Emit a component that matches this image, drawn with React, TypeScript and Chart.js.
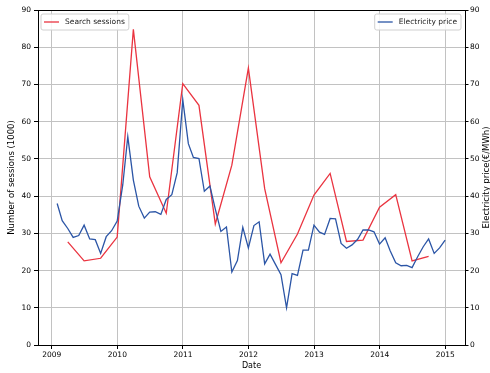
import React, { useEffect, useRef } from 'react';
import { Chart, registerables } from 'chart.js';

Chart.register(...registerables);

// Quarterly search sessions (thousands), dated at quarter end
const sessionDates = [
  '2009-03-31', '2009-06-30', '2009-09-30', '2009-12-31',
  '2010-03-31', '2010-06-30', '2010-09-30', '2010-12-31',
  '2011-03-31', '2011-06-30', '2011-09-30', '2011-12-31',
  '2012-03-31', '2012-06-30', '2012-09-30', '2012-12-31',
  '2013-03-31', '2013-06-30', '2013-09-30', '2013-12-31',
  '2014-03-31', '2014-06-30', '2014-09-30',
];
const sessionValues = [
  27.7, 22.6, 23.3, 29.0,
  84.8, 45.2, 35.4, 70.2,
  64.4, 32.5, 48.3, 74.4,
  42.0, 22.1, 29.8, 40.3,
  46.1, 27.8, 28.2, 37.0,
  40.4, 22.6, 23.8,
];

// Monthly electricity price (€/MWh), dated at month end
const priceMonths = [
  '2009-01', '2009-02', '2009-03', '2009-04', '2009-05', '2009-06', '2009-07', '2009-08', '2009-09', '2009-10', '2009-11', '2009-12',
  '2010-01', '2010-02', '2010-03', '2010-04', '2010-05', '2010-06', '2010-07', '2010-08', '2010-09', '2010-10', '2010-11', '2010-12',
  '2011-01', '2011-02', '2011-03', '2011-04', '2011-05', '2011-06', '2011-07', '2011-08', '2011-09', '2011-10', '2011-11', '2011-12',
  '2012-01', '2012-02', '2012-03', '2012-04', '2012-05', '2012-06', '2012-07', '2012-08', '2012-09', '2012-10', '2012-11', '2012-12',
  '2013-01', '2013-02', '2013-03', '2013-04', '2013-05', '2013-06', '2013-07', '2013-08', '2013-09', '2013-10', '2013-11', '2013-12',
  '2014-01', '2014-02', '2014-03', '2014-04', '2014-05', '2014-06', '2014-07', '2014-08', '2014-09', '2014-10', '2014-11', '2014-12',
];
const priceValues = [
  38.0, 33.4, 31.3, 28.9, 29.4, 32.2, 28.5, 28.3, 24.6, 29.1, 30.7, 33.3,
  43.0, 56.0, 44.3, 37.3, 34.1, 35.7, 35.8, 35.1, 39.1, 40.4, 46.3, 65.9,
  54.1, 50.4, 50.1, 41.3, 42.7, 36.5, 30.5, 31.7, 19.6, 22.7, 31.6, 26.1,
  32.1, 33.1, 21.8, 24.4, 21.6, 18.9, 10.0, 19.2, 18.7, 25.5, 25.5, 32.2,
  30.3, 29.7, 34.0, 33.9, 27.3, 26.0, 26.9, 28.4, 30.9, 30.9, 30.4, 27.1,
  28.8, 25.3, 22.1, 21.3, 21.4, 20.8, 23.7, 26.4, 28.5, 24.6, 26.1, 28.2,
];

const yearTicks = [2009, 2010, 2011, 2012, 2013, 2014, 2015];
const valueTicks = [0, 10, 20, 30, 40, 50, 60, 70, 80, 90];

const SESSION_COLOR = '#ea3440';
const PRICE_COLOR = '#2b55a6';
const FONT = '"DejaVu Sans", sans-serif';
const TICK_SIZE = 7.5;
const TITLE_SIZE = 8.5;
const DATE_SIZE = 8;

// Convert a calendar date into a fractional year for the linear x axis
function fractionalYear(y: number, m: number, d: number): number {
  const start = Date.UTC(y, 0, 1);
  const end = Date.UTC(y + 1, 0, 1);
  return y + (Date.UTC(y, m - 1, d) - start) / (end - start);
}

function fromIsoDate(s: string): number {
  const [y, m, d] = s.split('-').map(Number);
  return fractionalYear(y, m, d);
}

function fromMonthEnd(s: string): number {
  const [y, m] = s.split('-').map(Number);
  const lastDay = new Date(Date.UTC(y, m, 0)).getUTCDate();
  return fractionalYear(y, m, lastDay);
}

function drawLegendBox(
  ctx: CanvasRenderingContext2D,
  x: number,
  y: number,
  label: string,
  color: string,
  alignRight: boolean
) {
  ctx.save();
  ctx.font = `${TICK_SIZE}px ${FONT}`;
  const textW = ctx.measureText(label).width;
  const pad = 3;
  const handle = 15;
  const gap = 6;
  const w = pad + handle + gap + textW + pad + 1;
  const h = 16;
  const left = alignRight ? x - w : x;
  ctx.beginPath();
  const r = 2;
  ctx.moveTo(left + r, y);
  ctx.lineTo(left + w - r, y);
  ctx.quadraticCurveTo(left + w, y, left + w, y + r);
  ctx.lineTo(left + w, y + h - r);
  ctx.quadraticCurveTo(left + w, y + h, left + w - r, y + h);
  ctx.lineTo(left + r, y + h);
  ctx.quadraticCurveTo(left, y + h, left, y + h - r);
  ctx.lineTo(left, y + r);
  ctx.quadraticCurveTo(left, y, left + r, y);
  ctx.closePath();
  ctx.fillStyle = 'rgba(255,255,255,0.85)';
  ctx.fill();
  ctx.strokeStyle = '#d0d0d0';
  ctx.lineWidth = 1;
  ctx.stroke();
  const cy = y + h / 2;
  ctx.beginPath();
  ctx.moveTo(left + pad, cy);
  ctx.lineTo(left + pad + handle, cy);
  ctx.strokeStyle = color;
  ctx.lineWidth = 1.3;
  ctx.stroke();
  ctx.fillStyle = '#222';
  ctx.textBaseline = 'middle';
  ctx.textAlign = 'left';
  ctx.fillText(label, left + pad + handle + gap, cy + 0.5);
  ctx.restore();
}

const framePlugin = {
  id: 'frameAndLabels',
  afterDatasetsDraw(chart: any) {
    const { ctx, chartArea } = chart;
    const { left, right, top, bottom } = chartArea;
    // top spine
    ctx.save();
    ctx.strokeStyle = '#000';
    ctx.lineWidth = 1;
    ctx.beginPath();
    ctx.moveTo(left, top + 0.5);
    ctx.lineTo(right, top + 0.5);
    ctx.stroke();
    ctx.restore();

    drawLegendBox(ctx, left + 3, top + 4, 'Search sessions', SESSION_COLOR, false);
    drawLegendBox(ctx, right - 4, top + 4, 'Electricity price', PRICE_COLOR, true);

    ctx.save();
    ctx.fillStyle = '#000';
    ctx.textAlign = 'center';
    ctx.textBaseline = 'middle';
    ctx.font = `${DATE_SIZE}px ${FONT}`;
    ctx.fillText('Date', (left + right) / 2, 366);
    ctx.font = `${TITLE_SIZE}px ${FONT}`;
    const midY = (top + bottom) / 2;
    ctx.save();
    ctx.translate(12, midY);
    ctx.rotate(-Math.PI / 2);
    ctx.fillText('Number of sessions (1000)', 0, 0);
    ctx.restore();
    ctx.save();
    ctx.translate(486.5, midY);
    ctx.rotate(-Math.PI / 2);
    ctx.fillText('Electricity price(€/MWh)', 0, 0);
    ctx.restore();
    ctx.restore();
  },
};

export default function App() {
  const canvasRef = useRef<HTMLCanvasElement | null>(null);

  useEffect(() => {
    document.body.style.margin = '0';
    const canvas = canvasRef.current;
    if (!canvas) return;

    const sessionPoints = sessionDates.map((d, i) => ({ x: fromIsoDate(d), y: sessionValues[i] }));
    const pricePoints = priceMonths.map((m, i) => ({ x: fromMonthEnd(m), y: priceValues[i] }));

    const tickFont = { family: FONT, size: TICK_SIZE };

    const chart = new Chart(canvas, {
      type: 'line',
      data: {
        datasets: [
          {
            label: 'Electricity price',
            data: pricePoints,
            borderColor: PRICE_COLOR,
            backgroundColor: PRICE_COLOR,
            borderWidth: 1.3,
            pointRadius: 0,
            tension: 0,
            yAxisID: 'y1',
          },
          {
            label: 'Search sessions',
            data: sessionPoints,
            borderColor: SESSION_COLOR,
            backgroundColor: SESSION_COLOR,
            borderWidth: 1.3,
            pointRadius: 0,
            tension: 0,
            yAxisID: 'y',
          },
        ],
      },
      options: {
        responsive: false,
        animation: false,
        devicePixelRatio: 1,
        layout: { padding: { top: 10, left: 0, right: 0, bottom: 0 } },
        plugins: {
          legend: { display: false },
          tooltip: { enabled: false },
        },
        scales: {
          x: {
            type: 'linear',
            min: 2008.79,
            max: 2015.3,
            afterBuildTicks: (s: any) => {
              s.ticks = yearTicks.map((v) => ({ value: v }));
            },
            afterFit: (s: any) => {
              s.height = 28;
            },
            ticks: {
              font: tickFont,
              color: '#000',
              padding: 2,
              maxRotation: 0,
              callback: (v: any) => String(v),
            },
            grid: {
              color: '#c2c2c2',
              lineWidth: 1,
              tickColor: '#000',
              tickLength: 4,
            },
            border: { display: true, color: '#000', width: 1 },
          },
          y: {
            type: 'linear',
            position: 'left',
            min: 0,
            max: 90,
            afterBuildTicks: (s: any) => {
              s.ticks = valueTicks.map((v) => ({ value: v }));
            },
            afterFit: (s: any) => {
              s.width = 38;
            },
            ticks: { font: tickFont, color: '#000', padding: 3 },
            grid: {
              color: '#c2c2c2',
              lineWidth: 1,
              tickColor: '#000',
              tickLength: 4,
            },
            border: { display: true, color: '#000', width: 1 },
          },
          y1: {
            type: 'linear',
            position: 'right',
            min: 0,
            max: 90,
            afterBuildTicks: (s: any) => {
              s.ticks = valueTicks.map((v) => ({ value: v }));
            },
            afterFit: (s: any) => {
              s.width = 25;
            },
            ticks: { font: tickFont, color: '#000', padding: 1.5 },
            grid: {
              drawOnChartArea: false,
              tickColor: '#000',
              tickLength: 3.5,
            },
            border: { display: true, color: '#000', width: 1 },
          },
        },
      },
      plugins: [framePlugin],
    });

    return () => chart.destroy();
  }, []);

  return (
    <canvas
      ref={canvasRef}
      width={490}
      height={373}
      style={{ display: 'block', width: '490px', height: '373px' }}
    />
  );
}
